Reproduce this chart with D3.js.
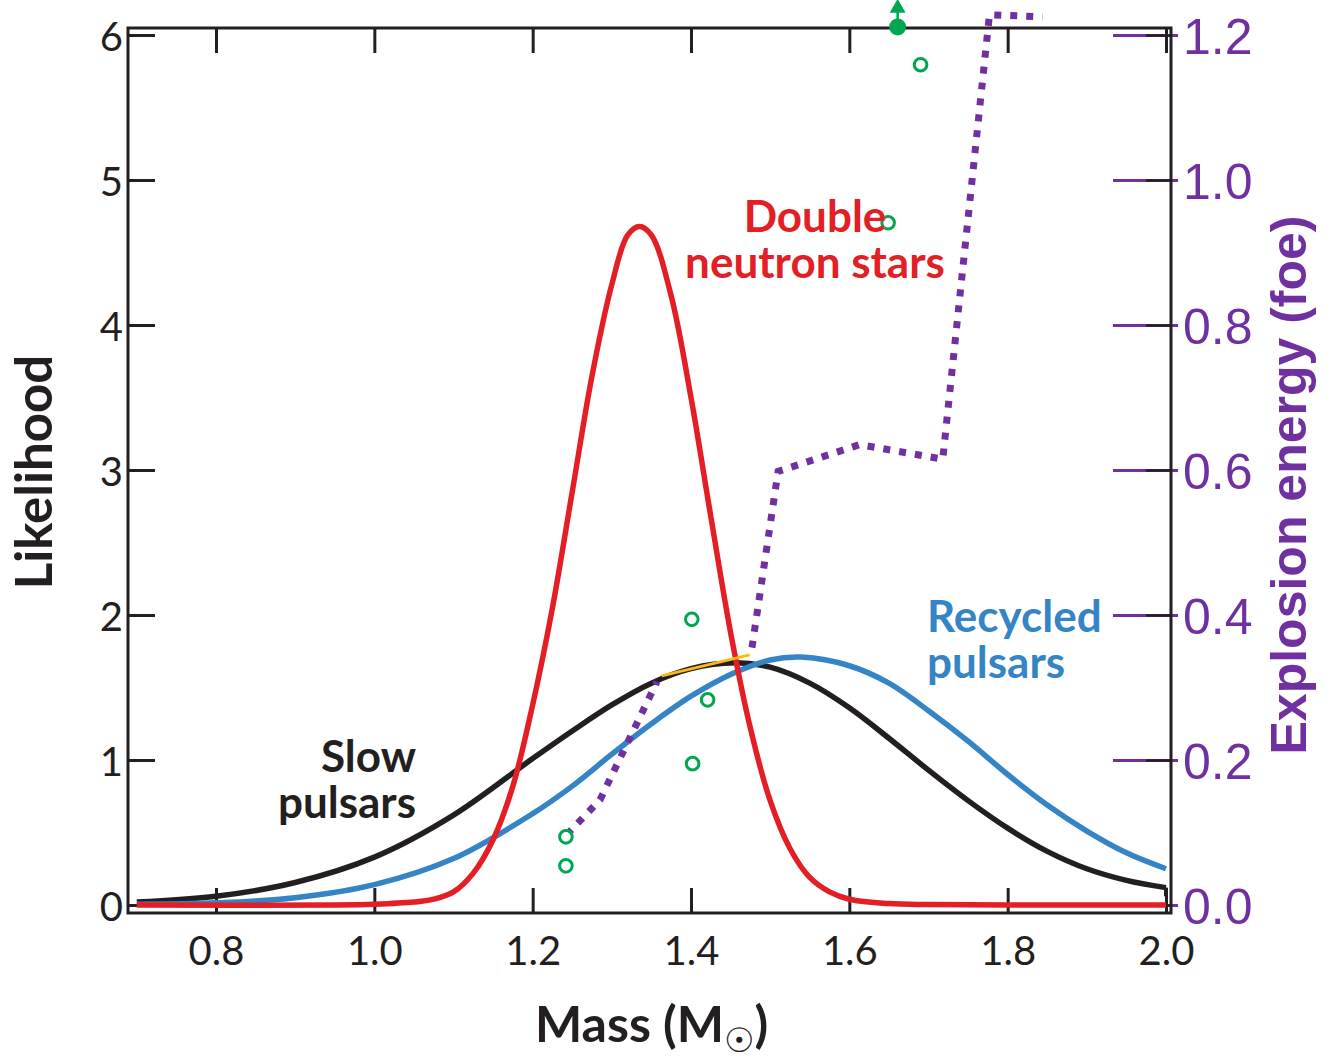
<!DOCTYPE html>
<html>
<head>
<meta charset="utf-8">
<script src="https://cdn.jsdelivr.net/npm/d3@7/dist/d3.min.js"></script>
<style>
  body { margin: 0; background: #fff; }
  svg { display: block; }
</style>
</head>
<body>
<svg id="chart" width="1333" height="1059"></svg>
<script>
// Tick values
var massTicks = [0.8, 1.0, 1.2, 1.4, 1.6, 1.8, 2.0];
var likelihoodTicks = [0, 1, 2, 3, 4, 5, 6];
var energyTicks = [0, 0.2, 0.4, 0.6, 0.8, 1.0, 1.2];

// Likelihood curves, [mass, likelihood]
var slowPulsars = [
  [0.70, 0.02], [0.80, 0.06], [0.90, 0.155], [1.00, 0.33], [1.10, 0.62], [1.20, 1.01],
  [1.25, 1.20], [1.30, 1.38], [1.35, 1.53], [1.40, 1.63], [1.455, 1.67], [1.50, 1.64],
  [1.55, 1.53], [1.60, 1.36], [1.65, 1.15], [1.70, 0.93], [1.75, 0.72], [1.80, 0.53],
  [1.85, 0.37], [1.90, 0.25], [1.95, 0.17], [2.00, 0.12]
];
var recycledPulsars = [
  [0.70, 0.005], [0.80, 0.015], [0.90, 0.05], [1.00, 0.14], [1.10, 0.32], [1.20, 0.63],
  [1.25, 0.82], [1.30, 1.04], [1.35, 1.25], [1.40, 1.44], [1.45, 1.59], [1.50, 1.69],
  [1.54, 1.71], [1.60, 1.65], [1.65, 1.53], [1.70, 1.34], [1.75, 1.13], [1.80, 0.90],
  [1.85, 0.69], [1.90, 0.51], [1.95, 0.36], [2.00, 0.25]
];
var doubleNeutronStars = [
  [0.70, 0], [0.95, 0], [1.00, 0.005], [1.05, 0.02], [1.075, 0.04], [1.10, 0.09],
  [1.125, 0.22], [1.15, 0.45], [1.175, 0.82], [1.20, 1.38], [1.225, 2.05], [1.25, 2.85],
  [1.275, 3.65], [1.30, 4.28], [1.32, 4.62], [1.335, 4.68], [1.35, 4.62], [1.375, 4.20],
  [1.40, 3.50], [1.425, 2.68], [1.45, 1.88], [1.475, 1.22], [1.50, 0.72], [1.525, 0.39],
  [1.55, 0.19], [1.575, 0.09], [1.60, 0.04], [1.65, 0.01], [1.70, 0.003], [1.80, 0], [2.00, 0]
];

// Explosion energy, [mass, foe]; null marks the gap in the dotted line
var explosionEnergy = [
  [1.243, 0.097], [1.285, 0.145], [1.357, 0.308], [1.42, null],
  [1.477, 0.355], [1.510, 0.598], [1.613, 0.635], [1.718, 0.615], [1.777, 1.228], [1.844, 1.225]
];
var energyBridge = [[1.363, 0.316], [1.474, 0.345]];

// Simulated explosions, [mass, foe]
var simOpen = [
  [1.242, 0.094], [1.242, 0.054], [1.401, 0.394], [1.421, 0.283], [1.402, 0.195],
  [1.649, 0.941], [1.690, 1.159]
];
var simLowerLimit = [[1.661, 1.211]];

// Colours
var inkColour = "#231F20";
var redColour = "#E31E24";
var blueColour = "#3584C6";
var purpleColour = "#7030A0";
var greenColour = "#00A650";
var orangeColour = "#FDB813";

var svg = d3.select("#chart");

// Scales: both vertical scales share the same pixel range (6 <-> 1.2 foe)
var x = d3.scaleLinear().domain([0.8, 2.0]).range([216, 1166]);
var yL = d3.scaleLinear().domain([0, 6]).range([905, 35]);
var yR = d3.scaleLinear().domain([0, 1.2]).range([905, 35]);

var frame = { left: 128, right: 1171, top: 28, bottom: 913 };

// Right axis: purple ticks and labels (drawn first, black ticks go on top)
var rightAxis = svg.append("g")
  .attr("transform", "translate(" + frame.right + ",0)")
  .call(d3.axisRight(yR).tickValues(energyTicks).tickFormat(d3.format(".1f"))
    .tickSizeInner(-58).tickSizeOuter(0).tickPadding(12));
rightAxis.select(".domain").remove();
rightAxis.selectAll("line").attr("x1", 7).attr("stroke", purpleColour).attr("stroke-width", 3);
rightAxis.selectAll("text")
  .attr("fill", purpleColour)
  .style("font-family", "'Liberation Sans', Arial, sans-serif")
  .style("font-size", "50px")
  .attr("dy", "0.36em");

// Inner black ticks on the right
var rightInner = svg.append("g")
  .attr("transform", "translate(" + frame.right + ",0)")
  .call(d3.axisRight(yL).tickValues(likelihoodTicks).tickFormat("").tickSizeInner(-25).tickSizeOuter(0));
rightInner.select(".domain").remove();
rightInner.selectAll("line").attr("stroke", inkColour).attr("stroke-width", 2.5);

// Left axis
var leftAxis = svg.append("g")
  .attr("transform", "translate(" + frame.left + ",0)")
  .call(d3.axisLeft(yL).tickValues(likelihoodTicks).tickFormat(d3.format("d"))
    .tickSizeInner(-27).tickSizeOuter(0).tickPadding(5));
leftAxis.select(".domain").remove();
leftAxis.selectAll("line").attr("stroke", inkColour).attr("stroke-width", 3);
leftAxis.selectAll("text")
  .attr("fill", inkColour)
  .style("font-family", "Lato, 'Open Sans', sans-serif")
  .style("font-size", "40px")
  .attr("dy", "0.38em");

// Bottom axis
var bottomAxis = svg.append("g")
  .attr("transform", "translate(0," + frame.bottom + ")")
  .call(d3.axisBottom(x).tickValues(massTicks).tickFormat(d3.format(".1f"))
    .tickSizeInner(-25).tickSizeOuter(0).tickPadding(24));
bottomAxis.select(".domain").remove();
bottomAxis.selectAll("line").attr("stroke", inkColour).attr("stroke-width", 3);
bottomAxis.selectAll("text")
  .attr("fill", inkColour)
  .style("font-family", "Lato, 'Open Sans', sans-serif")
  .style("font-size", "40px");

// Top axis, ticks only
var topAxis = svg.append("g")
  .attr("transform", "translate(0," + frame.top + ")")
  .call(d3.axisTop(x).tickValues(massTicks).tickFormat("").tickSizeInner(-25).tickSizeOuter(0));
topAxis.select(".domain").remove();
topAxis.selectAll("line").attr("stroke", inkColour).attr("stroke-width", 3);

// Frame
svg.append("rect")
  .attr("x", frame.left)
  .attr("y", frame.top)
  .attr("width", frame.right - frame.left)
  .attr("height", frame.bottom - frame.top)
  .attr("fill", "none")
  .attr("stroke", inkColour)
  .attr("stroke-width", 3);

// Likelihood curves
var likelihoodLine = d3.line()
  .x(function(d) { return x(d[0]); })
  .y(function(d) { return yL(d[1]); })
  .curve(d3.curveCatmullRom.alpha(0.5));

[[slowPulsars, inkColour], [recycledPulsars, blueColour], [doubleNeutronStars, redColour]]
  .forEach(function(s) {
    svg.append("path")
      .datum(s[0])
      .attr("d", likelihoodLine)
      .attr("fill", "none")
      .attr("stroke", s[1])
      .attr("stroke-width", 5.5)
      .attr("stroke-linejoin", "round");
  });

// Short drop at the end of the slow pulsar curve
svg.append("line")
  .attr("x1", x(2.0)).attr("x2", x(2.0))
  .attr("y1", yL(slowPulsars[slowPulsars.length - 1][1]))
  .attr("y2", yL(0.06))
  .attr("stroke", inkColour)
  .attr("stroke-width", 4);

// Explosion energy
var energyLine = d3.line()
  .defined(function(d) { return d[1] != null; })
  .x(function(d) { return x(d[0]); })
  .y(function(d) { return yR(d[1]); });

svg.append("path")
  .datum(explosionEnergy)
  .attr("d", energyLine)
  .attr("fill", "none")
  .attr("stroke", purpleColour)
  .attr("stroke-width", 7)
  .attr("stroke-dasharray", "7,9");

svg.append("path")
  .datum(energyBridge)
  .attr("d", energyLine)
  .attr("fill", "none")
  .attr("stroke", orangeColour)
  .attr("stroke-width", 3);

// Simulation points
svg.selectAll(".sim")
  .data(simOpen)
  .enter()
  .append("circle")
  .attr("class", "sim")
  .attr("cx", function(d) { return x(d[0]); })
  .attr("cy", function(d) { return yR(d[1]); })
  .attr("r", 6.3)
  .attr("fill", "#fff")
  .attr("stroke", greenColour)
  .attr("stroke-width", 3);

var limit = svg.selectAll(".limit")
  .data(simLowerLimit)
  .enter()
  .append("g")
  .attr("class", "limit")
  .attr("transform", function(d) { return "translate(" + x(d[0]) + "," + yR(d[1]) + ")"; });
limit.append("line")
  .attr("y1", 0).attr("y2", -16)
  .attr("stroke", greenColour).attr("stroke-width", 2.5);
limit.append("path")
  .attr("d", d3.symbol(d3.symbolTriangle, 110))
  .attr("transform", "translate(0,-19)")
  .attr("fill", greenColour);
limit.append("circle")
  .attr("r", 8.5)
  .attr("fill", greenColour);

// Curve labels
function label(lines, px, py, anchor, colour) {
  var t = svg.append("text")
    .attr("text-anchor", anchor)
    .attr("fill", colour)
    .style("font-family", "Lato, 'Open Sans', sans-serif")
    .style("font-weight", "bold")
    .style("font-size", "44px");
  lines.forEach(function(s, i) {
    t.append("tspan").attr("x", px).attr("y", py + i * 46).text(s);
  });
}
label(["Double", "neutron stars"], 815, 232, "middle", redColour);
label(["Slow", "pulsars"], 416, 772, "end", inkColour);
label(["Recycled", "pulsars"], 927, 632, "start", blueColour);

// Axis titles
svg.append("text")
  .attr("transform", "translate(52,472) rotate(-90)")
  .attr("text-anchor", "middle")
  .attr("fill", inkColour)
  .style("font-family", "Lato, 'Open Sans', sans-serif")
  .style("font-weight", "bold")
  .style("font-size", "51px")
  .text("Likelihood");

var massTitle = svg.append("text")
  .attr("x", 535)
  .attr("y", 1042)
  .attr("fill", inkColour)
  .style("font-family", "Lato, 'Open Sans', sans-serif")
  .style("font-weight", "bold")
  .style("font-size", "50px");
massTitle.append("tspan").text("Mass (M");
massTitle.append("tspan")
  .attr("dy", 10)
  .style("font-family", "'DejaVu Sans', sans-serif")
  .style("font-weight", "normal")
  .style("font-size", "34px")
  .text("\u2609");
massTitle.append("tspan").attr("dy", -10).text(")");

svg.append("text")
  .attr("transform", "translate(1306,485) rotate(-90)")
  .attr("text-anchor", "middle")
  .attr("fill", purpleColour)
  .style("font-family", "'Liberation Sans', Arial, sans-serif")
  .style("font-weight", "bold")
  .style("font-size", "50px")
  .text("Explosion energy (foe)");
</script>
</body>
</html>
